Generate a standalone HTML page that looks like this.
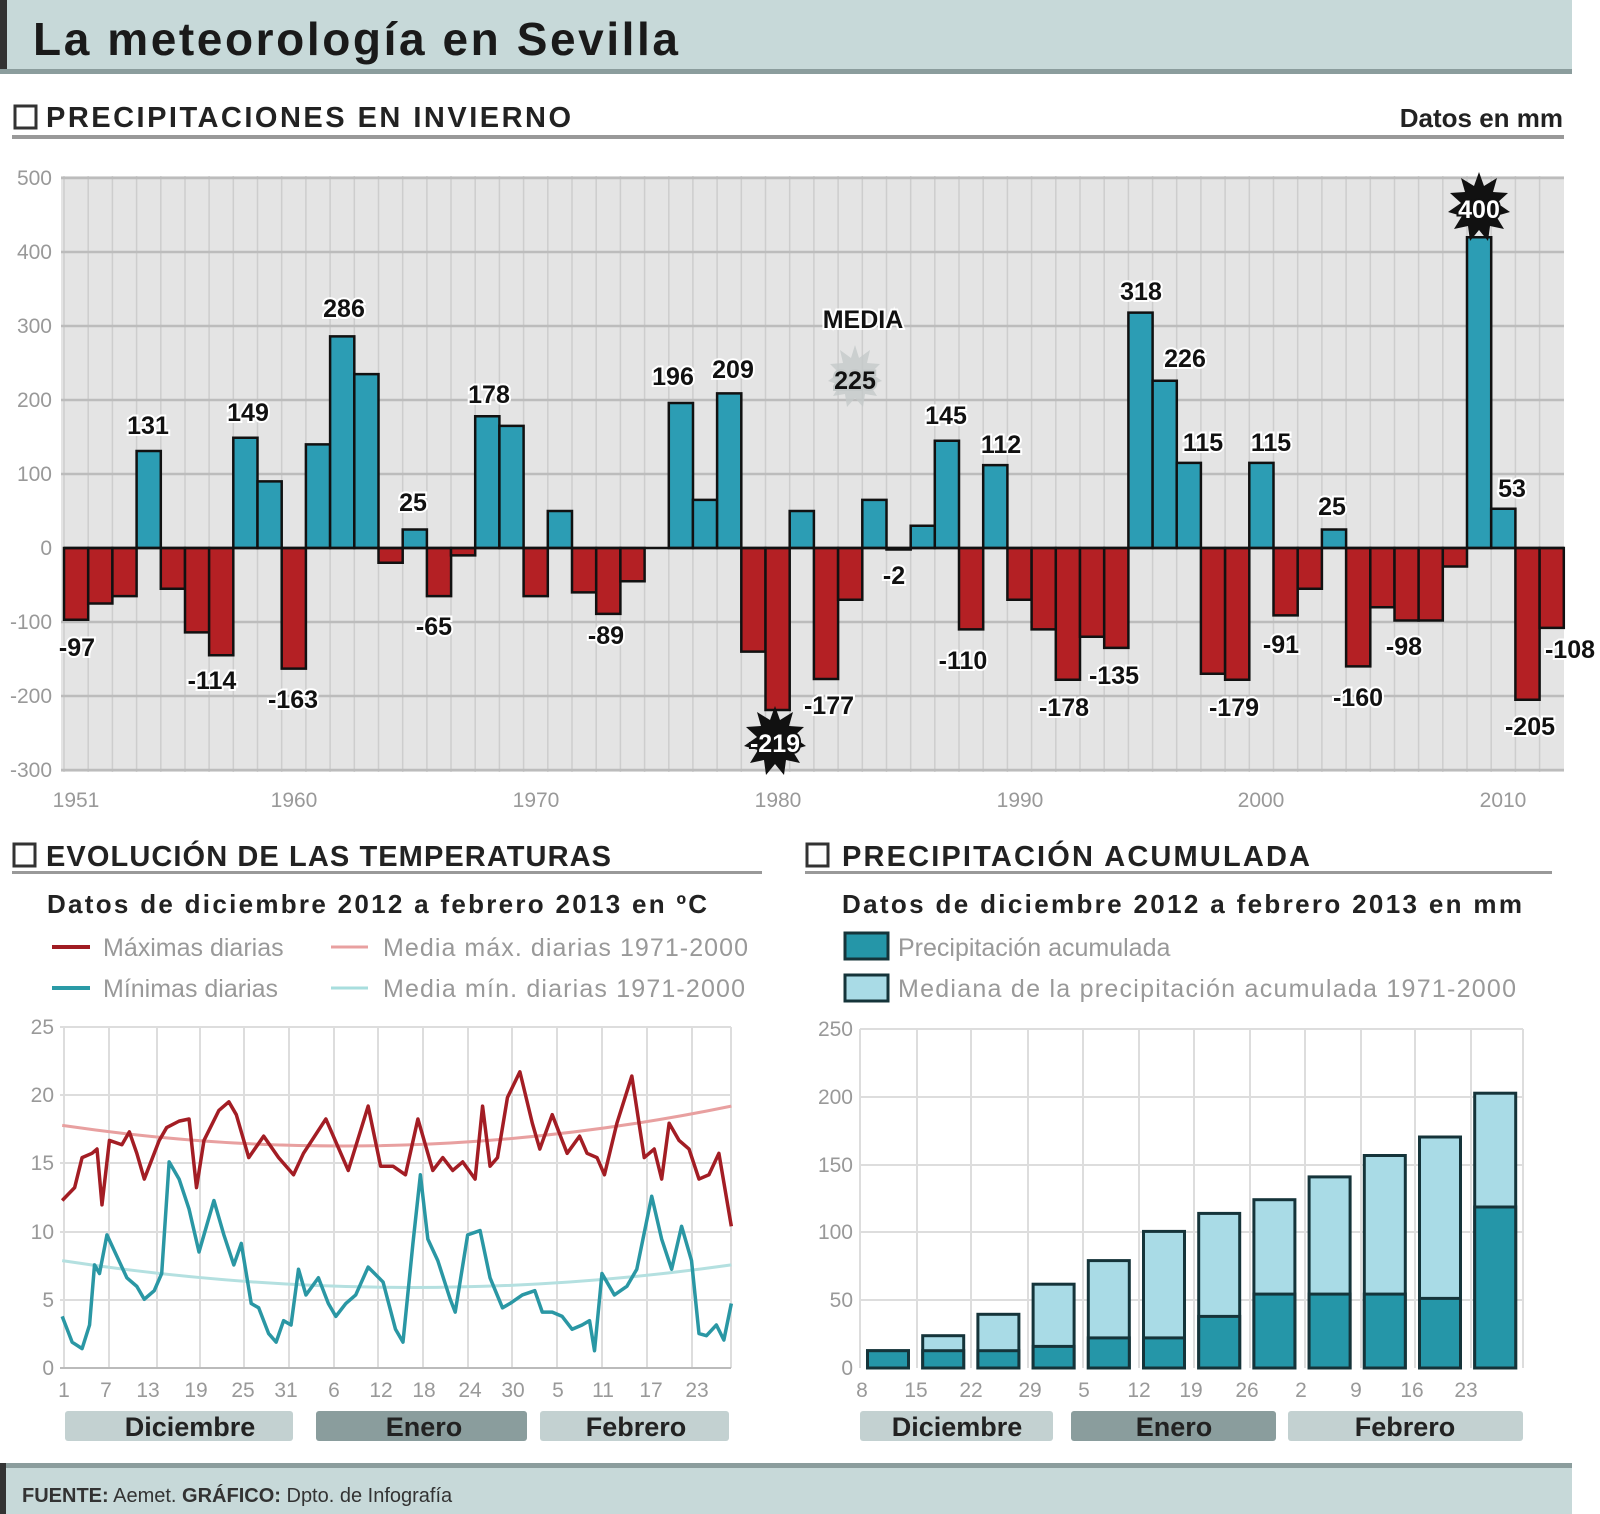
<!DOCTYPE html>
<html><head><meta charset="utf-8"><style>
html,body{margin:0;padding:0;background:#fff;width:1600px;height:1514px;overflow:hidden}
svg{display:block}
text{font-family:"Liberation Sans Narrow","Liberation Sans",sans-serif}
.v{font-weight:bold;font-size:25px;fill:#111;stroke:#fff;stroke-width:4px;paint-order:stroke;text-anchor:middle;dominant-baseline:central}
.ax{font-size:21px;fill:#999;font-family:"Liberation Sans",sans-serif}
.sec{font-weight:bold;font-size:29px;fill:#222}
.sub{font-weight:bold;font-size:26px;fill:#222}
.lg{font-size:25px;fill:#999}
.mon{font-weight:bold;font-size:27px;fill:#222;text-anchor:middle}
</style></head><body>
<svg width="1600" height="1514" viewBox="0 0 1600 1514" xmlns="http://www.w3.org/2000/svg">
<!-- header -->
<rect x="0" y="0" width="1572" height="72" fill="#c7d9d9"/>
<rect x="0" y="0" width="7" height="74" fill="#333"/>
<rect x="0" y="69" width="1572" height="5" fill="#8b9d9d"/>
<text x="33" y="55" font-weight="bold" font-size="46" fill="#1a1a1a" font-family="Liberation Sans, sans-serif" textLength="645">La meteorología en Sevilla</text>

<!-- section 1 header -->
<rect x="15" y="106" width="21" height="22" fill="none" stroke="#333" stroke-width="3"/>
<text x="46" y="127" class="sec" textLength="525">PRECIPITACIONES EN INVIERNO</text>
<text x="1563" y="127" class="sub" text-anchor="end" font-size="27">Datos en mm</text>
<rect x="12" y="135" width="1552" height="4" fill="#999"/>

<!-- top plot -->
<rect x="61" y="176" width="1503" height="596" fill="#e4e4e4"/>
<g stroke="#cdcdcd" stroke-width="1.5">
<line x1="64" y1="176" x2="64" y2="772"/><line x1="88.2" y1="176" x2="88.2" y2="772"/><line x1="112.4" y1="176" x2="112.4" y2="772"/><line x1="136.6" y1="176" x2="136.6" y2="772"/><line x1="160.8" y1="176" x2="160.8" y2="772"/><line x1="185" y1="176" x2="185" y2="772"/><line x1="209.1" y1="176" x2="209.1" y2="772"/><line x1="233.3" y1="176" x2="233.3" y2="772"/><line x1="257.5" y1="176" x2="257.5" y2="772"/><line x1="281.7" y1="176" x2="281.7" y2="772"/><line x1="305.9" y1="176" x2="305.9" y2="772"/><line x1="330.1" y1="176" x2="330.1" y2="772"/><line x1="354.3" y1="176" x2="354.3" y2="772"/><line x1="378.5" y1="176" x2="378.5" y2="772"/><line x1="402.7" y1="176" x2="402.7" y2="772"/><line x1="426.9" y1="176" x2="426.9" y2="772"/><line x1="451" y1="176" x2="451" y2="772"/><line x1="475.2" y1="176" x2="475.2" y2="772"/><line x1="499.4" y1="176" x2="499.4" y2="772"/><line x1="523.6" y1="176" x2="523.6" y2="772"/><line x1="547.8" y1="176" x2="547.8" y2="772"/><line x1="572" y1="176" x2="572" y2="772"/><line x1="596.2" y1="176" x2="596.2" y2="772"/><line x1="620.4" y1="176" x2="620.4" y2="772"/><line x1="644.6" y1="176" x2="644.6" y2="772"/><line x1="668.8" y1="176" x2="668.8" y2="772"/><line x1="692.9" y1="176" x2="692.9" y2="772"/><line x1="717.1" y1="176" x2="717.1" y2="772"/><line x1="741.3" y1="176" x2="741.3" y2="772"/><line x1="765.5" y1="176" x2="765.5" y2="772"/><line x1="789.7" y1="176" x2="789.7" y2="772"/><line x1="813.9" y1="176" x2="813.9" y2="772"/><line x1="838.1" y1="176" x2="838.1" y2="772"/><line x1="862.3" y1="176" x2="862.3" y2="772"/><line x1="886.5" y1="176" x2="886.5" y2="772"/><line x1="910.7" y1="176" x2="910.7" y2="772"/><line x1="934.8" y1="176" x2="934.8" y2="772"/><line x1="959" y1="176" x2="959" y2="772"/><line x1="983.2" y1="176" x2="983.2" y2="772"/><line x1="1007.4" y1="176" x2="1007.4" y2="772"/><line x1="1031.6" y1="176" x2="1031.6" y2="772"/><line x1="1055.8" y1="176" x2="1055.8" y2="772"/><line x1="1080" y1="176" x2="1080" y2="772"/><line x1="1104.2" y1="176" x2="1104.2" y2="772"/><line x1="1128.4" y1="176" x2="1128.4" y2="772"/><line x1="1152.6" y1="176" x2="1152.6" y2="772"/><line x1="1176.7" y1="176" x2="1176.7" y2="772"/><line x1="1200.9" y1="176" x2="1200.9" y2="772"/><line x1="1225.1" y1="176" x2="1225.1" y2="772"/><line x1="1249.3" y1="176" x2="1249.3" y2="772"/><line x1="1273.5" y1="176" x2="1273.5" y2="772"/><line x1="1297.7" y1="176" x2="1297.7" y2="772"/><line x1="1321.9" y1="176" x2="1321.9" y2="772"/><line x1="1346.1" y1="176" x2="1346.1" y2="772"/><line x1="1370.3" y1="176" x2="1370.3" y2="772"/><line x1="1394.5" y1="176" x2="1394.5" y2="772"/><line x1="1418.6" y1="176" x2="1418.6" y2="772"/><line x1="1442.8" y1="176" x2="1442.8" y2="772"/><line x1="1467" y1="176" x2="1467" y2="772"/><line x1="1491.2" y1="176" x2="1491.2" y2="772"/><line x1="1515.4" y1="176" x2="1515.4" y2="772"/><line x1="1539.6" y1="176" x2="1539.6" y2="772"/>
</g>
<g stroke="#bcbcbc" stroke-width="2.5">
<line x1="61" y1="178" x2="1564" y2="178"/><line x1="61" y1="252" x2="1564" y2="252"/><line x1="61" y1="326" x2="1564" y2="326"/><line x1="61" y1="400" x2="1564" y2="400"/><line x1="61" y1="474" x2="1564" y2="474"/><line x1="61" y1="622" x2="1564" y2="622"/><line x1="61" y1="696" x2="1564" y2="696"/><line x1="61" y1="770" x2="1564" y2="770"/>
</g>
<g class="ax" text-anchor="end">
<text x="52" y="185">500</text><text x="52" y="259">400</text><text x="52" y="333">300</text><text x="52" y="407">200</text><text x="52" y="481">100</text><text x="52" y="555">0</text><text x="52" y="629">-100</text><text x="52" y="703">-200</text><text x="52" y="777">-300</text>
</g>
<g class="ax" text-anchor="middle">
<text x="76" y="807">1951</text><text x="294" y="807">1960</text><text x="536" y="807">1970</text><text x="778" y="807">1980</text><text x="1020" y="807">1990</text><text x="1261" y="807">2000</text><text x="1503" y="807">2010</text>
</g>
<!-- bars -->
<g transform="translate(0,548) scale(1,-0.74)" stroke="#111" stroke-width="2.5">
<g fill="#b42024">
<rect vector-effect="non-scaling-stroke" x="64" y="-97" width="24.2" height="97"/>
<rect vector-effect="non-scaling-stroke" x="88.2" y="-75" width="24.2" height="75"/>
<rect vector-effect="non-scaling-stroke" x="112.4" y="-65" width="24.2" height="65"/>
<rect vector-effect="non-scaling-stroke" x="160.8" y="-55" width="24.2" height="55"/>
<rect vector-effect="non-scaling-stroke" x="185" y="-114" width="24.2" height="114"/>
<rect vector-effect="non-scaling-stroke" x="209.1" y="-145" width="24.2" height="145"/>
<rect vector-effect="non-scaling-stroke" x="281.7" y="-163" width="24.2" height="163"/>
<rect vector-effect="non-scaling-stroke" x="378.5" y="-20" width="24.2" height="20"/>
<rect vector-effect="non-scaling-stroke" x="426.9" y="-65" width="24.2" height="65"/>
<rect vector-effect="non-scaling-stroke" x="451" y="-10" width="24.2" height="10"/>
<rect vector-effect="non-scaling-stroke" x="523.6" y="-65" width="24.2" height="65"/>
<rect vector-effect="non-scaling-stroke" x="572" y="-60" width="24.2" height="60"/>
<rect vector-effect="non-scaling-stroke" x="596.2" y="-89" width="24.2" height="89"/>
<rect vector-effect="non-scaling-stroke" x="620.4" y="-45" width="24.2" height="45"/>
<rect vector-effect="non-scaling-stroke" x="741.3" y="-140" width="24.2" height="140"/>
<rect vector-effect="non-scaling-stroke" x="765.5" y="-219" width="24.2" height="219"/>
<rect vector-effect="non-scaling-stroke" x="813.9" y="-177" width="24.2" height="177"/>
<rect vector-effect="non-scaling-stroke" x="838.1" y="-70" width="24.2" height="70"/>
<rect vector-effect="non-scaling-stroke" x="886.5" y="-2" width="24.2" height="2"/>
<rect vector-effect="non-scaling-stroke" x="959" y="-110" width="24.2" height="110"/>
<rect vector-effect="non-scaling-stroke" x="1007.4" y="-70" width="24.2" height="70"/>
<rect vector-effect="non-scaling-stroke" x="1031.6" y="-110" width="24.2" height="110"/>
<rect vector-effect="non-scaling-stroke" x="1055.8" y="-178" width="24.2" height="178"/>
<rect vector-effect="non-scaling-stroke" x="1080" y="-120" width="24.2" height="120"/>
<rect vector-effect="non-scaling-stroke" x="1104.2" y="-135" width="24.2" height="135"/>
<rect vector-effect="non-scaling-stroke" x="1200.9" y="-170" width="24.2" height="170"/>
<rect vector-effect="non-scaling-stroke" x="1225.1" y="-178" width="24.2" height="178"/>
<rect vector-effect="non-scaling-stroke" x="1273.5" y="-91" width="24.2" height="91"/>
<rect vector-effect="non-scaling-stroke" x="1297.7" y="-55" width="24.2" height="55"/>
<rect vector-effect="non-scaling-stroke" x="1346.1" y="-160" width="24.2" height="160"/>
<rect vector-effect="non-scaling-stroke" x="1370.3" y="-80" width="24.2" height="80"/>
<rect vector-effect="non-scaling-stroke" x="1394.5" y="-98" width="24.2" height="98"/>
<rect vector-effect="non-scaling-stroke" x="1418.6" y="-98" width="24.2" height="98"/>
<rect vector-effect="non-scaling-stroke" x="1442.8" y="-25" width="24.2" height="25"/>
<rect vector-effect="non-scaling-stroke" x="1515.4" y="-205" width="24.2" height="205"/>
<rect vector-effect="non-scaling-stroke" x="1539.6" y="-108" width="24.2" height="108"/>
</g>
<g fill="#2c9db4">
<rect vector-effect="non-scaling-stroke" x="136.6" y="0" width="24.2" height="131"/>
<rect vector-effect="non-scaling-stroke" x="233.3" y="0" width="24.2" height="149"/>
<rect vector-effect="non-scaling-stroke" x="257.5" y="0" width="24.2" height="90"/>
<rect vector-effect="non-scaling-stroke" x="305.9" y="0" width="24.2" height="140"/>
<rect vector-effect="non-scaling-stroke" x="330.1" y="0" width="24.2" height="286"/>
<rect vector-effect="non-scaling-stroke" x="354.3" y="0" width="24.2" height="235"/>
<rect vector-effect="non-scaling-stroke" x="402.7" y="0" width="24.2" height="25"/>
<rect vector-effect="non-scaling-stroke" x="475.2" y="0" width="24.2" height="178"/>
<rect vector-effect="non-scaling-stroke" x="499.4" y="0" width="24.2" height="165"/>
<rect vector-effect="non-scaling-stroke" x="547.8" y="0" width="24.2" height="50"/>
<rect vector-effect="non-scaling-stroke" x="668.8" y="0" width="24.2" height="196"/>
<rect vector-effect="non-scaling-stroke" x="692.9" y="0" width="24.2" height="65"/>
<rect vector-effect="non-scaling-stroke" x="717.1" y="0" width="24.2" height="209"/>
<rect vector-effect="non-scaling-stroke" x="789.7" y="0" width="24.2" height="50"/>
<rect vector-effect="non-scaling-stroke" x="862.3" y="0" width="24.2" height="65"/>
<rect vector-effect="non-scaling-stroke" x="910.7" y="0" width="24.2" height="30"/>
<rect vector-effect="non-scaling-stroke" x="934.8" y="0" width="24.2" height="145"/>
<rect vector-effect="non-scaling-stroke" x="983.2" y="0" width="24.2" height="112"/>
<rect vector-effect="non-scaling-stroke" x="1128.4" y="0" width="24.2" height="318"/>
<rect vector-effect="non-scaling-stroke" x="1152.6" y="0" width="24.2" height="226"/>
<rect vector-effect="non-scaling-stroke" x="1176.7" y="0" width="24.2" height="115"/>
<rect vector-effect="non-scaling-stroke" x="1249.3" y="0" width="24.2" height="115"/>
<rect vector-effect="non-scaling-stroke" x="1321.9" y="0" width="24.2" height="25"/>
<rect vector-effect="non-scaling-stroke" x="1467" y="0" width="24.2" height="420"/>
<rect vector-effect="non-scaling-stroke" x="1491.2" y="0" width="24.2" height="53"/>
</g>
</g>
<line x1="64" y1="548" x2="1564" y2="548" stroke="#111" stroke-width="2.5"/>
<!-- starbursts -->
<polygon fill="#111" points="1479,172 1484,186 1497,178 1493,192 1508,193 1497,203 1510,212 1496,216 1504,229 1490,226 1488,241 1479,230 1470,241 1468,226 1454,229 1462,216 1448,212 1461,203 1450,193 1465,192 1461,178 1474,186"/>
<text x="1479" y="210" class="v" fill="#fff" style="fill:#fff;stroke:#111">400</text>
<polygon fill="#111" points="775,706 780,720 793,712 789,726 804,727 793,737 806,746 792,750 800,763 786,760 784,775 775,764 766,775 764,760 750,763 758,750 744,746 757,737 746,727 761,726 757,712 770,720"/>
<text x="775" y="744" class="v" style="fill:#fff;stroke:#111">-219</text>
<polygon fill="#c4c9c9" opacity="0.8" points="855,345 859,358 870,350 867,363 880,364 871,373 882,381 870,385 877,396 865,394 863,407 855,398 847,407 845,394 833,396 840,385 828,381 839,373 830,364 843,363 840,350 851,358"/>
<text x="863" y="320" class="v" font-size="25" stroke-width="0">MEDIA</text>
<text x="855" y="381" class="v" style="stroke:#c4c9c9">225</text>
<!-- value labels -->
<text class="v" x="77" y="648">-97</text>
<text class="v" x="148" y="426">131</text>
<text class="v" x="248" y="413">149</text>
<text class="v" x="344" y="309">286</text>
<text class="v" x="212" y="681">-114</text>
<text class="v" x="293" y="700">-163</text>
<text class="v" x="413" y="503">25</text>
<text class="v" x="434" y="627">-65</text>
<text class="v" x="489" y="395">178</text>
<text class="v" x="606" y="636">-89</text>
<text class="v" x="673" y="377">196</text>
<text class="v" x="733" y="370">209</text>
<text class="v" x="829" y="706">-177</text>
<text class="v" x="894" y="576">-2</text>
<text class="v" x="946" y="416">145</text>
<text class="v" x="1001" y="445">112</text>
<text class="v" x="963" y="661">-110</text>
<text class="v" x="1141" y="292">318</text>
<text class="v" x="1185" y="359">226</text>
<text class="v" x="1203" y="443">115</text>
<text class="v" x="1271" y="443">115</text>
<text class="v" x="1064" y="708">-178</text>
<text class="v" x="1114" y="676">-135</text>
<text class="v" x="1234" y="708">-179</text>
<text class="v" x="1281" y="645">-91</text>
<text class="v" x="1332" y="507">25</text>
<text class="v" x="1358" y="698">-160</text>
<text class="v" x="1404" y="647">-98</text>
<text class="v" x="1512" y="489">53</text>
<text class="v" x="1530" y="727">-205</text>
<text class="v" x="1570" y="650">-108</text>

<!-- ===== lower left ===== -->
<rect x="14" y="844" width="21" height="22" fill="none" stroke="#333" stroke-width="3"/>
<text x="46" y="866" class="sec" textLength="565">EVOLUCIÓN DE LAS TEMPERATURAS</text>
<rect x="12" y="871" width="750" height="3" fill="#999"/>
<text x="47" y="913" class="sub" textLength="660">Datos de diciembre 2012 a febrero 2013 en ºC</text>
<line x1="52" y1="947" x2="90" y2="947" stroke="#a01c22" stroke-width="4"/>
<text x="103" y="956" class="lg">Máximas diarias</text>
<line x1="331" y1="947" x2="368" y2="947" stroke="#e8a0a0" stroke-width="3"/>
<text x="383" y="956" class="lg" textLength="365">Media máx. diarias 1971-2000</text>
<line x1="52" y1="988" x2="90" y2="988" stroke="#2a9aa6" stroke-width="4"/>
<text x="103" y="997" class="lg">Mínimas diarias</text>
<line x1="331" y1="988" x2="368" y2="988" stroke="#a8dede" stroke-width="3"/>
<text x="383" y="997" class="lg" textLength="362">Media mín. diarias 1971-2000</text>
<!-- grid -->
<g stroke="#ddd" stroke-width="2">
<line x1="60" y1="1027" x2="731" y2="1027"/><line x1="60" y1="1095" x2="731" y2="1095"/><line x1="60" y1="1163" x2="731" y2="1163"/><line x1="60" y1="1232" x2="731" y2="1232"/><line x1="60" y1="1300" x2="731" y2="1300"/>
<line x1="64" y1="1027" x2="64" y2="1368"/><line x1="109" y1="1027" x2="109" y2="1368"/><line x1="157" y1="1027" x2="157" y2="1368"/><line x1="200" y1="1027" x2="200" y2="1368"/><line x1="244" y1="1027" x2="244" y2="1368"/><line x1="289" y1="1027" x2="289" y2="1368"/><line x1="334" y1="1027" x2="334" y2="1368"/><line x1="378" y1="1027" x2="378" y2="1368"/><line x1="423" y1="1027" x2="423" y2="1368"/><line x1="468" y1="1027" x2="468" y2="1368"/><line x1="512" y1="1027" x2="512" y2="1368"/><line x1="557" y1="1027" x2="557" y2="1368"/><line x1="602" y1="1027" x2="602" y2="1368"/><line x1="647" y1="1027" x2="647" y2="1368"/><line x1="692" y1="1027" x2="692" y2="1368"/><line x1="731" y1="1027" x2="731" y2="1368"/>
</g>
<line x1="60" y1="1368" x2="731" y2="1368" stroke="#bbb" stroke-width="2"/>
<g class="ax" text-anchor="end">
<text x="54" y="1034">25</text><text x="54" y="1102">20</text><text x="54" y="1170">15</text><text x="54" y="1239">10</text><text x="54" y="1307">5</text><text x="54" y="1375">0</text>
</g>
<g class="ax" text-anchor="middle">
<text x="64" y="1397">1</text><text x="106" y="1397">7</text><text x="148" y="1397">13</text><text x="196" y="1397">19</text><text x="243" y="1397">25</text><text x="286" y="1397">31</text><text x="334" y="1397">6</text><text x="381" y="1397">12</text><text x="424" y="1397">18</text><text x="470" y="1397">24</text><text x="513" y="1397">30</text><text x="558" y="1397">5</text><text x="603" y="1397">11</text><text x="651" y="1397">17</text><text x="697" y="1397">23</text>
</g>
<g transform="translate(0,840) scale(0.4975,0.4292)" fill="none">
<path vector-effect="non-scaling-stroke" stroke="#e8a0a0" stroke-width="3" d="M125,665 Q800,780 1470,620"/>
<path vector-effect="non-scaling-stroke" stroke="#b4e0e0" stroke-width="3" d="M125,980 Q800,1100 1470,990"/>
<polyline vector-effect="non-scaling-stroke" stroke="#a31d24" stroke-width="3.5" stroke-linejoin="round" points="125,840 150,810 165,740 185,730 195,720 205,850 220,700 245,710 260,680 275,730 290,790 320,700 335,670 360,655 380,650 395,810 410,700 440,630 460,610 475,640 500,740 530,690 560,740 590,780 610,730 655,650 700,770 740,620 765,760 790,760 815,780 840,650 870,770 890,740 910,770 930,750 955,790 970,620 985,760 1000,740 1020,600 1045,540 1070,660 1085,720 1110,640 1140,730 1165,690 1180,730 1200,740 1215,780 1240,660 1270,550 1295,740 1315,720 1330,790 1345,660 1365,700 1385,720 1405,790 1425,780 1445,730 1470,900"/>
<polyline vector-effect="non-scaling-stroke" stroke="#2a97a4" stroke-width="3.5" stroke-linejoin="round" points="125,1110 145,1170 165,1185 180,1130 190,990 200,1010 215,920 235,970 255,1020 275,1040 290,1070 310,1050 325,1010 340,750 360,790 380,860 400,960 415,900 430,840 450,920 470,990 485,940 505,1080 520,1090 540,1150 555,1170 570,1120 585,1130 600,1000 615,1060 640,1020 660,1080 675,1110 695,1080 715,1060 740,995 770,1030 795,1140 810,1170 830,940 845,780 860,930 880,980 905,1070 915,1100 940,920 965,910 985,1020 1010,1090 1025,1080 1050,1060 1075,1050 1090,1100 1110,1100 1130,1110 1150,1140 1170,1130 1185,1120 1195,1190 1210,1010 1235,1060 1260,1040 1280,1000 1310,830 1330,930 1350,1000 1370,900 1390,980 1405,1150 1420,1155 1440,1130 1455,1165 1470,1080"/>
</g>
<rect x="65" y="1411" width="228" height="30" rx="3" fill="#c3d1d1"/>
<rect x="316" y="1411" width="211" height="30" rx="3" fill="#8a9d9d"/>
<rect x="540" y="1411" width="189" height="30" rx="3" fill="#c3d1d1"/>
<text x="190" y="1436" class="mon">Diciembre</text>
<text x="424" y="1436" class="mon">Enero</text>
<text x="636" y="1436" class="mon">Febrero</text>

<!-- ===== lower right ===== -->
<rect x="807" y="844" width="21" height="22" fill="none" stroke="#333" stroke-width="3"/>
<text x="842" y="866" class="sec" textLength="468">PRECIPITACIÓN ACUMULADA</text>
<rect x="805" y="871" width="747" height="3" fill="#999"/>
<text x="842" y="913" class="sub" textLength="680">Datos de diciembre 2012 a febrero 2013 en mm</text>
<rect x="845" y="933" width="43" height="26" fill="#2596a8" stroke="#15343a" stroke-width="3"/>
<text x="898" y="956" class="lg">Precipitación acumulada</text>
<rect x="845" y="975" width="43" height="26" fill="#a9dbe6" stroke="#15343a" stroke-width="3"/>
<text x="898" y="997" class="lg" textLength="618">Mediana de la precipitación acumulada 1971-2000</text>
<g stroke="#ddd" stroke-width="2">
<line x1="860" y1="1029" x2="1523" y2="1029"/><line x1="860" y1="1097" x2="1523" y2="1097"/><line x1="860" y1="1165" x2="1523" y2="1165"/><line x1="860" y1="1232" x2="1523" y2="1232"/><line x1="860" y1="1300" x2="1523" y2="1300"/>
<line x1="860" y1="1029" x2="860" y2="1368"/><line x1="917" y1="1029" x2="917" y2="1368"/><line x1="971" y1="1029" x2="971" y2="1368"/><line x1="1028" y1="1029" x2="1028" y2="1368"/><line x1="1083" y1="1029" x2="1083" y2="1368"/><line x1="1139" y1="1029" x2="1139" y2="1368"/><line x1="1194" y1="1029" x2="1194" y2="1368"/><line x1="1250" y1="1029" x2="1250" y2="1368"/><line x1="1305" y1="1029" x2="1305" y2="1368"/><line x1="1361" y1="1029" x2="1361" y2="1368"/><line x1="1415" y1="1029" x2="1415" y2="1368"/><line x1="1471" y1="1029" x2="1471" y2="1368"/><line x1="1523" y1="1029" x2="1523" y2="1368"/>
</g>
<g class="ax" text-anchor="end">
<text x="853" y="1036">250</text><text x="853" y="1104">200</text><text x="853" y="1172">150</text><text x="853" y="1239">100</text><text x="853" y="1307">50</text><text x="853" y="1375">0</text>
</g>
<g stroke="#15343a" stroke-width="3">
<g fill="#a9dbe6">
<rect x="867.5" y="1350.7" width="41" height="17.3"/><rect x="922.7" y="1335.7" width="41" height="32.3"/><rect x="977.9" y="1314.3" width="41" height="53.7"/><rect x="1033.1" y="1284.2" width="41" height="83.8"/><rect x="1088.3" y="1260.6" width="41" height="107.4"/><rect x="1143.5" y="1231.4" width="41" height="136.6"/><rect x="1198.7" y="1213.4" width="41" height="154.6"/><rect x="1253.9" y="1199.7" width="41" height="168.3"/><rect x="1309.1" y="1176.9" width="41" height="191.1"/><rect x="1364.3" y="1155.5" width="41" height="212.5"/><rect x="1419.5" y="1137" width="41" height="231"/><rect x="1474.7" y="1093.2" width="41" height="274.8"/>
</g>
<g fill="#2596a8">
<rect x="867.5" y="1350.7" width="41" height="17.3"/><rect x="922.7" y="1350.7" width="41" height="17.3"/><rect x="977.9" y="1350.7" width="41" height="17.3"/><rect x="1033.1" y="1346.4" width="41" height="21.6"/><rect x="1088.3" y="1337.9" width="41" height="30.1"/><rect x="1143.5" y="1337.9" width="41" height="30.1"/><rect x="1198.7" y="1316.4" width="41" height="51.6"/><rect x="1253.9" y="1294.1" width="41" height="73.9"/><rect x="1309.1" y="1294.1" width="41" height="73.9"/><rect x="1364.3" y="1294.1" width="41" height="73.9"/><rect x="1419.5" y="1298.4" width="41" height="69.6"/><rect x="1474.7" y="1207" width="41" height="161"/>
</g>
</g>
<g class="ax" text-anchor="middle">
<text x="862" y="1397">8</text><text x="916" y="1397">15</text><text x="971" y="1397">22</text><text x="1030" y="1397">29</text><text x="1084" y="1397">5</text><text x="1139" y="1397">12</text><text x="1191" y="1397">19</text><text x="1247" y="1397">26</text><text x="1301" y="1397">2</text><text x="1356" y="1397">9</text><text x="1412" y="1397">16</text><text x="1466" y="1397">23</text>
</g>
<rect x="860" y="1411" width="193" height="30" rx="3" fill="#c3d1d1"/>
<rect x="1071" y="1411" width="205" height="30" rx="3" fill="#8a9d9d"/>
<rect x="1288" y="1411" width="235" height="30" rx="3" fill="#c3d1d1"/>
<text x="957" y="1436" class="mon">Diciembre</text>
<text x="1174" y="1436" class="mon">Enero</text>
<text x="1405" y="1436" class="mon">Febrero</text>

<!-- footer -->
<rect x="0" y="1466" width="1572" height="48" fill="#c7d9d9"/>
<rect x="0" y="1463" width="1572" height="5" fill="#8b9d9d"/>
<rect x="0" y="1463" width="6" height="51" fill="#333"/>
<text x="22" y="1502" font-size="20" fill="#333" font-family="Liberation Sans, sans-serif"><tspan font-weight="bold">FUENTE:</tspan> Aemet. <tspan font-weight="bold">GRÁFICO:</tspan> Dpto. de Infografía</text>
</svg>
</body></html>
